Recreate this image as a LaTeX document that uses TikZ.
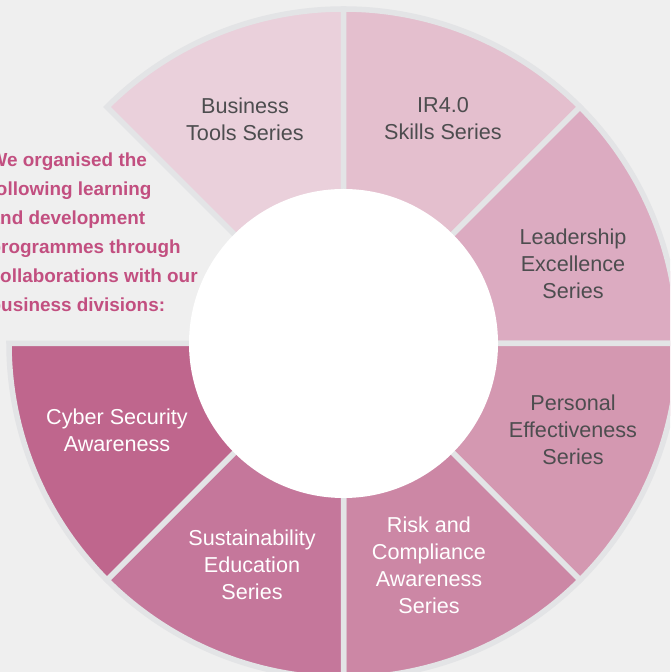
\documentclass[tikz,border=0pt]{standalone}
\usepackage{fontspec}
\setmainfont{Liberation Sans}
\usepackage{tikz}

\definecolor{bgpage}{HTML}{EFEFEF}
\definecolor{gapgray}{HTML}{E3E4E6}
\definecolor{segBiz}{HTML}{EAD0DB}
\definecolor{segIR}{HTML}{E4BFCE}
\definecolor{segLead}{HTML}{DCABC1}
\definecolor{segPers}{HTML}{D498B1}
\definecolor{segRisk}{HTML}{CC87A5}
\definecolor{segSust}{HTML}{C5779B}
\definecolor{segCyber}{HTML}{BF668D}
\definecolor{labelgray}{HTML}{4D4D4F}
\definecolor{intropink}{HTML}{C24F80}

\tikzset{
  seg/.style={draw=gapgray, line width=5.5pt, line join=miter},
  seglabel/.style={align=center, font=\fontsize{21.6}{27}\selectfont, text=labelgray},
  seglabelw/.style={seglabel, text=white},
}

\begin{document}
\begin{tikzpicture}[x=1pt, y=1pt]
  \useasboundingbox (0,0) rectangle (670,672);
  \clip (0,0) rectangle (670,672);
  \fill[bgpage] (0,0) rectangle (670,672);

  \begin{scope}[shift={(343.5,328.5)}]
    \coordinate (c) at (0,0);

    % ring segments, 45 degrees each, 135..180 left open
    \foreach \a/\col in {90/segBiz, 45/segIR, 0/segLead, -45/segPers,
                         -90/segRisk, -135/segSust, -180/segCyber} {
      \draw[seg, fill=\col] (\a:130) -- (\a:334.5)
        arc[start angle=\a, end angle=\a+45, radius=334.5]
        -- (\a+45:130)
        arc[start angle=\a+45, end angle=\a, radius=130] -- cycle;
    }

    % white hub
    \fill[white] (c) circle[radius=154.5];

    % segment labels
    \node[seglabel] (biz) at (-98.5,224.5) {Business\\Tools Series};
    \node[seglabel] (ir) at (99.5,224.5) {IR4.0\\Skills Series};
    \node[seglabel] (lead) at (229.5,79.5) {Leadership\\Excellence\\Series};
    \node[seglabel] (pers) at (229.5,-86.5) {Personal\\Effectiveness\\Series};
    \node[seglabelw] (risk) at (85.5,-221.5) {Risk and\\Compliance\\Awareness\\Series};
    \node[seglabelw] (sust) at (-91.5,-221.5) {Sustainability\\Education\\Series};
    \node[seglabelw] (cyber) at (-226.5,-86.5) {Cyber Security\\Awareness};
  \end{scope}

  % intro text
  \node[anchor=west, align=left, inner sep=0pt, text=intropink,
        font=\fontsize{18.9}{29}\selectfont\bfseries] (intro) at (-10.5,439.5)
    {We organised the\\following learning\\and development\\programmes through\\collaborations with our\\business divisions:};
\end{tikzpicture}
\end{document}
